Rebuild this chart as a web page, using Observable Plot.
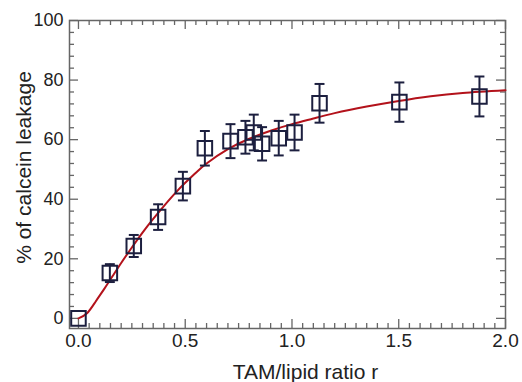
<!DOCTYPE html>
<html>
<head>
<meta charset="utf-8">
<script src="https://cdn.jsdelivr.net/npm/d3@7"></script>
<script src="https://cdn.jsdelivr.net/npm/@observablehq/plot@0.6"></script>
<style>
  html, body { margin: 0; padding: 0; background: #fff; }
  svg { font-family: "Liberation Sans", Arial, sans-serif; }
</style>
</head>
<body>
<div id="chart"></div>
<script>
// Measured points
const ratio   = [0, 0.147, 0.259, 0.373, 0.489, 0.592, 0.712, 0.782, 0.821, 0.860, 0.938, 1.012, 1.129, 1.503, 1.878];
const leakage = [0, 15.2, 24.3, 34.0, 44.4, 57.1, 59.5, 60.8, 62.4, 58.6, 60.5, 62.4, 72.2, 72.6, 74.5];
const errors  = [0, 3.0, 3.7, 4.3, 4.8, 5.8, 5.7, 5.5, 6.0, 5.6, 5.8, 6.0, 6.5, 6.6, 6.7];

// Fitted curve
const curveR = [0, 0.04, 0.08, 0.12, 0.16, 0.2, 0.25, 0.3, 0.35, 0.4, 0.45, 0.5, 0.55, 0.6, 0.7, 0.8, 0.9, 1.0, 1.1, 1.2, 1.35, 1.5, 1.65, 1.8, 2.0];
const curveY = [0, 1.7, 5.6, 9.8, 14.2, 18.6, 23.8, 28.8, 33.4, 37.7, 41.8, 45.5, 48.9, 52.0, 56.8, 60.3, 63.0, 65.2, 67.1, 68.9, 71.1, 73.0, 74.6, 75.7, 76.6];

// Tick labels
const xTicks = [0, 0.5, 1.0, 1.5, 2.0];
const yTicks = [0, 20, 40, 60, 80, 100];
const xLabel = "TAM/lipid ratio r";
const yLabel = "% of calcein leakage";

const pts = ratio.map((r, i) => ({r, y: leakage[i], lo: leakage[i] - errors[i], hi: leakage[i] + errors[i], e: errors[i]}));
const fit = curveR.map((r, i) => ({r, y: curveY[i]}));

const W = 522, H = 382;
const mL = 69, mR = 17, mT = 20, mB = 54;
const fw = W - mL - mR, fh = H - mT - mB;
const major = 9, minor = 5;

const xMinor = d3.range(0, 40).map(i => i * 0.05).filter(v => !xTicks.some(t => Math.abs(t - v) < 1e-9));
const yMinor = d3.range(0, 26).map(i => i * 4).filter(v => !yTicks.includes(v));

const axisColor = "#666";
const ink = "#1c1f3f";

const capSymbol = {
  draw(context, size) {
    const w = Math.sqrt(size) / 2;
    context.moveTo(-w, 0);
    context.lineTo(w, 0);
  }
};

const chart = Plot.plot({
  width: W, height: H,
  marginLeft: mL, marginRight: mR, marginTop: mT, marginBottom: mB,
  x: {domain: [-0.042, 2.0]},
  y: {domain: [-3.4, 100]},
  style: {fontFamily: "Liberation Sans, Arial, sans-serif", color: "#222", background: "#fff"},
  marks: [
    // inward ticks: bottom & top
    Plot.ruleX(xTicks, {x: d => d, insetTop: fh - major, stroke: axisColor, strokeWidth: 1.3}),
    Plot.ruleX(xMinor, {x: d => d, insetTop: fh - minor, stroke: axisColor, strokeWidth: 1.3}),
    Plot.ruleX(xTicks, {x: d => d, insetBottom: fh - major, stroke: axisColor, strokeWidth: 1.3}),
    Plot.ruleX(xMinor, {x: d => d, insetBottom: fh - minor, stroke: axisColor, strokeWidth: 1.3}),
    // inward ticks: left & right
    Plot.ruleY(yTicks, {y: d => d, insetRight: fw - major, stroke: axisColor, strokeWidth: 1.3}),
    Plot.ruleY(yMinor, {y: d => d, insetRight: fw - minor, stroke: axisColor, strokeWidth: 1.3}),
    Plot.ruleY(yTicks, {y: d => d, insetLeft: fw - major, stroke: axisColor, strokeWidth: 1.3}),
    Plot.ruleY(yMinor, {y: d => d, insetLeft: fw - minor, stroke: axisColor, strokeWidth: 1.3}),
    Plot.frame({stroke: axisColor, strokeWidth: 1.5}),
    Plot.axisX({ticks: xTicks, tickSize: 0, tickPadding: 5, tickFormat: d => d.toFixed(1), fontSize: 19, label: null}),
    Plot.axisY({ticks: yTicks, tickSize: 0, tickPadding: 6, tickFormat: d => String(d), fontSize: 18, label: null}),
    // fitted curve
    Plot.line(fit, {x: "r", y: "y", stroke: "#b3121b", strokeWidth: 2, curve: "natural"}),
    // error bars
    Plot.ruleX(pts.filter(d => d.e > 0), {x: "r", y1: "lo", y2: "hi", stroke: ink, strokeWidth: 2}),
    Plot.dot(pts.filter(d => d.e > 0), {x: "r", y: "hi", symbol: capSymbol, r: 5.6, stroke: ink, strokeWidth: 2, fill: "none"}),
    Plot.dot(pts.filter(d => d.e > 0), {x: "r", y: "lo", symbol: capSymbol, r: 5.6, stroke: ink, strokeWidth: 2, fill: "none"}),
    // markers
    Plot.dot(pts, {x: "r", y: "y", symbol: "square", r: 8.2, stroke: ink, strokeWidth: 2, fill: "none"}),
    // axis titles
    Plot.text([xLabel], {text: d => d, frameAnchor: "bottom", dx: 18, dy: 50, lineAnchor: "bottom", textAnchor: "middle", fontSize: 21, fill: "#222"}),
    Plot.text([yLabel], {text: d => d, frameAnchor: "left", dx: -45, dy: -7, rotate: -90, lineAnchor: "middle", textAnchor: "middle", fontSize: 21, fill: "#222"})
  ]
});
document.getElementById("chart").appendChild(chart);
</script>
</body>
</html>
